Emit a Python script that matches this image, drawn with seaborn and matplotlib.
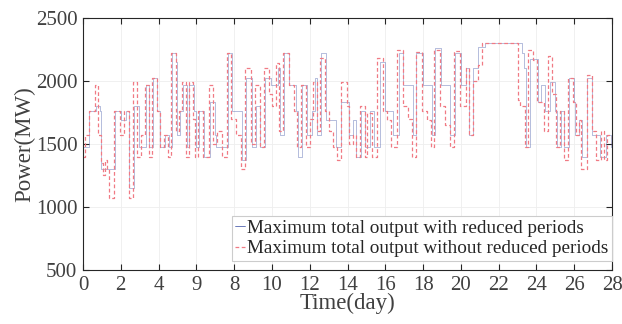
import matplotlib
matplotlib.use('Agg')
import matplotlib.pyplot as plt
import seaborn as sns
import pandas as pd

# step breakpoints (day, MW)
blue_t = [0.00, 0.30, 0.68, 0.90, 0.95, 1.70, 2.00, 2.30, 2.45, 2.68, 2.95, 3.35, 3.50, 3.68,
          3.90, 4.05, 4.35, 4.55, 4.70, 4.90, 5.00, 5.15, 5.30, 5.50, 5.62, 5.85, 6.00, 6.15,
          6.40, 6.70, 6.98, 7.05, 7.65, 7.90, 8.40, 8.65, 8.95, 9.15, 9.35, 9.65, 9.95, 10.30,
          10.45, 10.65, 10.90, 11.30, 11.40, 11.60, 11.83, 12.10, 12.30, 12.40, 12.60, 12.85,
          13.40, 13.65, 14.08, 14.30, 14.45, 14.70, 14.95, 15.20, 15.40, 15.70, 16.00, 16.40,
          16.70, 16.95, 17.45, 17.65, 18.00, 18.45, 18.65, 18.95, 19.45, 19.70, 20.00, 20.25,
          20.45, 20.65, 20.90, 21.30, 23.25, 23.35, 23.45, 23.65, 24.10, 24.25, 24.45, 24.70,
          25.00, 25.10, 25.30, 25.45, 25.70, 26.00, 26.05, 26.25, 26.40, 26.70, 26.95, 27.35,
          27.70, 27.95, 28.00]
blue_v = [1475, 1765, 1800, 1765, 1300, 1765, 1690, 1765, 1150, 1800, 1475, 1970, 1475, 2020,
          1765, 1475, 1570, 1475, 2220, 2150, 1570, 1765, 1970, 1475, 1970, 1765, 1475, 1765,
          1400, 1830, 1570, 1475, 2220, 1765, 1375, 2020, 1475, 1800, 1475, 2020, 1970, 2100,
          1570, 2220, 1970, 1765, 1400, 1970, 1570, 1765, 2020, 1570, 2220, 1690,
          1475, 1830, 1570, 1690, 1400, 1765, 1475, 1765, 1475, 2150, 1765, 1570,
          2220, 1970, 1570, 2220, 1970, 1570, 2260, 1970, 1570, 2220, 1970, 2100,
          1570, 2100, 2270, 2300, 2220, 2100, 1475, 2175, 1830, 1970, 1765, 1990,
          1765, 1475, 1765, 1475, 2020, 1830, 1570, 1690, 1400, 2020, 1570, 1400,
          1570, 1475, 1475]

red_t = [0.00, 0.10, 0.30, 0.65, 0.82, 0.95, 1.05, 1.15, 1.25, 1.40, 1.65, 1.95, 2.15, 2.42,
         2.65, 2.85, 3.05, 3.30, 3.50, 3.65, 3.90, 4.05, 4.30, 4.50, 4.65, 4.90, 5.10, 5.25,
         5.45, 5.60, 5.80, 5.95, 6.10, 6.35, 6.65, 6.90, 7.10, 7.35, 7.60, 7.85, 8.10, 8.35,
         8.60, 8.90, 9.10, 9.35, 9.60, 9.85, 10.00, 10.20, 10.40, 10.60, 10.90, 11.15, 11.35,
         11.55, 11.80, 12.00, 12.20, 12.40, 12.55, 12.80, 13.00, 13.25, 13.45, 13.65, 13.95,
         14.10, 14.30, 14.45, 14.65, 14.90, 15.05, 15.30, 15.55, 15.90, 16.10, 16.30, 16.60,
         16.95, 17.20, 17.40, 17.65, 17.95, 18.20, 18.40, 18.60, 18.90, 19.15, 19.45, 19.65,
         19.95, 20.25, 20.45, 20.65, 20.90, 21.10, 23.00, 23.15, 23.40, 23.55, 23.80, 24.05,
         24.40, 24.60, 24.80, 25.05, 25.25, 25.45, 25.65, 25.95, 26.10, 26.25, 26.35, 26.65,
         26.95, 27.15, 27.40, 27.55, 27.75, 28.00]
red_v = [1400, 1570, 1765, 1970, 1570, 1350, 1250, 1370, 1300, 1070, 1765, 1570, 1765, 1070,
         1990, 1400, 1570, 1970, 1400, 2020, 1765, 1475, 1570, 1400, 2220, 1600, 1765, 1990,
         1400, 1990, 1700, 1400, 1765, 1400, 1970, 1500, 1600, 1400, 2220, 1700, 1570, 1300,
         2100, 1500, 1970, 1475, 2100, 1900, 1800, 2140, 1600, 2220, 1970, 1765, 1475,
         1970, 1475, 1700, 1990, 1600, 2180, 1765, 1600, 1475, 1375, 1990, 1800,
         1500, 1570, 1400, 1800, 1400, 1750, 1400, 2180, 1765, 1690, 1475, 2250,
         1800, 1700, 1400, 2230, 1765, 1690, 1475, 2250, 1800, 1650, 1475, 2240,
         1800, 2100, 1570, 2000, 2130, 2300, 1850, 1800, 1475, 2250, 2170, 1830,
         1600, 2200, 1900, 1475, 1765, 1375, 2020, 1830, 1570, 1690, 1300, 2050,
         1600, 1375, 1600, 1375, 1570, 1475]

x_ticks = list(range(0, 29, 2))
x_tick_labels = ['0', '2', '4', '9', '8', '10', '12', '14', '16', '18', '20', '22', '24', '26', '28']
y_ticks = [500, 1000, 1500, 2000, 2500]

sns.set_theme(style='ticks')
plt.rcParams['font.family'] = ['Liberation Serif', 'DejaVu Serif']

blue_df = pd.DataFrame({'day': blue_t, 'MW': blue_v})
red_df = pd.DataFrame({'day': red_t, 'MW': red_v})

fig = plt.figure(figsize=(6.22, 3.24), dpi=100)
ax = fig.add_axes([0.1334, 0.1667, 0.8506, 0.7777])

sns.lineplot(data=blue_df, x='day', y='MW', ax=ax, estimator=None, sort=False,
             drawstyle='steps-post', color='#2f45a0', lw=0.5, alpha=0.5,
             label='Maximum total output with reduced periods')
sns.lineplot(data=red_df, x='day', y='MW', ax=ax, estimator=None, sort=False,
             drawstyle='steps-post', color='#f07a84', lw=0.9, dashes=(3, 2),
             label='Maximum total output without reduced periods')

ax.set_xlim(0, 28)
ax.set_ylim(500, 2500)
ax.set_xticks(x_ticks)
ax.set_xticklabels(x_tick_labels)
ax.set_yticks(y_ticks)
ax.grid(True, color='#eeeeee', lw=0.6)
ax.tick_params(direction='in', top=True, right=True, labelsize=15,
               colors='#262626', labelcolor='#404040', length=4, width=0.8)
ax.tick_params(axis='x', pad=4)
ax.tick_params(axis='y', pad=4)
for s in ax.spines.values():
    s.set_color('#262626')
    s.set_linewidth(0.8)
ax.set_xlabel('Time(day)', fontsize=16.5, color='#404040', labelpad=-1)
ax.set_ylabel('Power(MW)', fontsize=16.5, color='#404040', labelpad=0)

leg = ax.legend(loc='lower right', bbox_to_anchor=(1.0, 0.035), fontsize=13.8,
                handlelength=0.5, handletextpad=0.1, borderpad=0.2, borderaxespad=0,
                labelspacing=0.15, fancybox=False, framealpha=1)
leg.get_frame().set_edgecolor('#cccccc')
leg.get_frame().set_linewidth(0.8)
for t in leg.get_texts():
    t.set_color('#262626')
for h in leg.get_lines():
    h.set_alpha(1)

fig.savefig('out.png', dpi=100)
